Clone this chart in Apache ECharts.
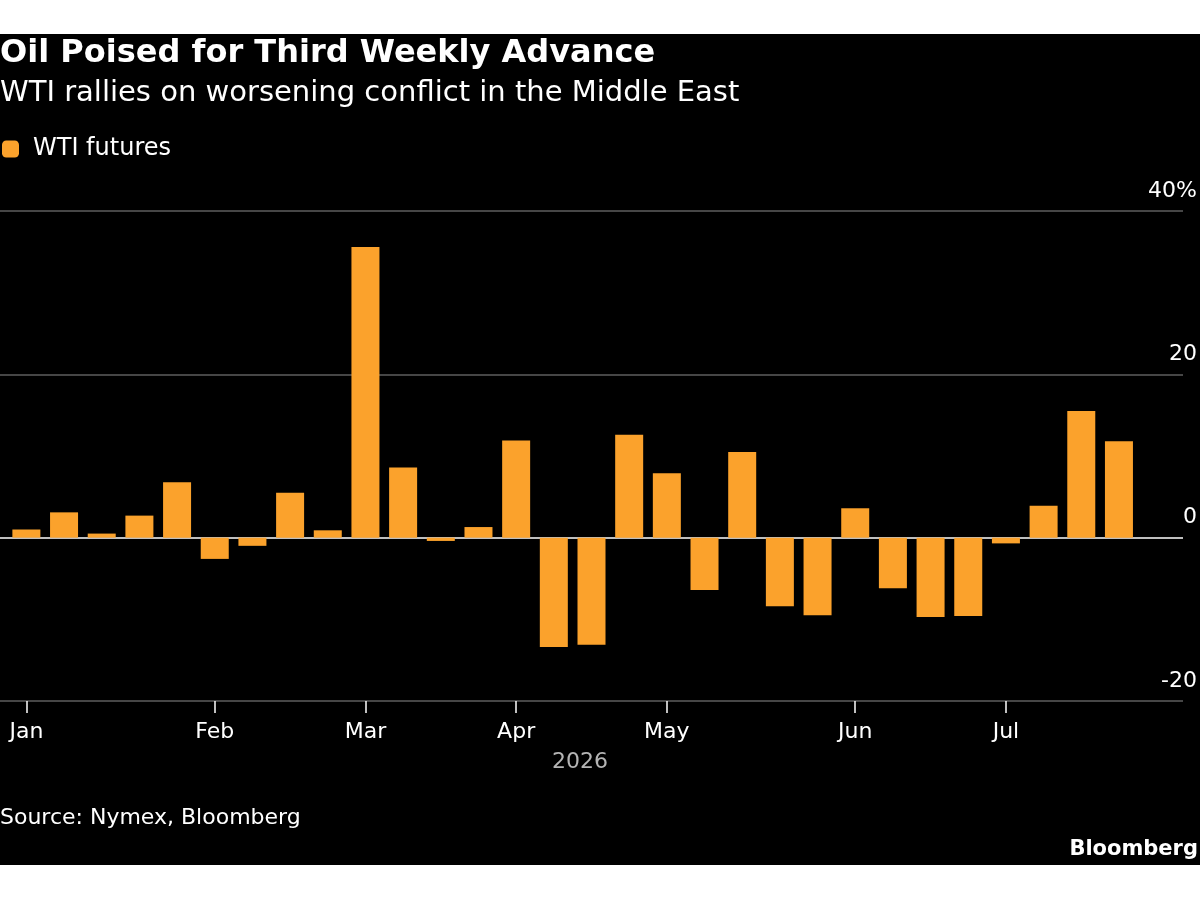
<!DOCTYPE html>
<html>
<head>
    <meta charset="utf-8">
    <title>Oil Poised for Third Weekly Advance</title>
    <script src="https://cdn.jsdelivr.net/npm/echarts@6/dist/echarts.min.js"></script>
    <style>
        body { margin: 0; background: #fff; }
        #main { position: absolute; left: 0; top: 34px; width: 1200px; height: 831px; background: #000; }
    </style>
</head>
<body>
<div id="main"></div>
<script>
    // weekly dates (Fridays, 2026) and WTI weekly % change
    var weeks = ['2026-01-02', '2026-01-09', '2026-01-16', '2026-01-23', '2026-01-30',
        '2026-02-06', '2026-02-13', '2026-02-20', '2026-02-27',
        '2026-03-06', '2026-03-13', '2026-03-20', '2026-03-27',
        '2026-04-03', '2026-04-10', '2026-04-17', '2026-04-24',
        '2026-05-01', '2026-05-08', '2026-05-15', '2026-05-22', '2026-05-29',
        '2026-06-05', '2026-06-12', '2026-06-19', '2026-06-26',
        '2026-07-03', '2026-07-10', '2026-07-17', '2026-07-24'];
    var wtiChange = [1.0, 3.1, 0.5, 2.7, 6.8,
        -2.6, -1.0, 5.5, 0.9,
        35.6, 8.6, -0.4, 1.3,
        11.9, -13.4, -13.1, 12.6,
        7.9, -6.4, 10.5, -8.4, -9.5,
        3.6, -6.2, -9.7, -9.6,
        -0.7, 3.9, 15.5, 11.8];
    var monthNames = ['Jan', 'Feb', 'Mar', 'Apr', 'May', 'Jun', 'Jul'];
    var yTicks = [-20, 0, 20, 40];

    var font = 'DejaVu Sans';

    // first week of each month gets a tick
    var monthIdx = [];
    var lastMonth = '';
    weeks.forEach(function (d, i) {
        var m = d.slice(5, 7);
        if (m !== lastMonth) {
            monthIdx.push(i);
            lastMonth = m;
        }
    });

    var seriesData = wtiChange.map(function (v, i) {
        return [i, v];
    });

    var chart = echarts.init(document.getElementById('main'));
    var option = {
        backgroundColor: '#000',
        animation: false,
        textStyle: { fontFamily: font },
        title: [
            {
                text: 'Oil Poised for Third Weekly Advance',
                left: 0, top: 4, padding: 0,
                textStyle: { color: '#fff', fontSize: 32, fontWeight: 'bold', fontFamily: font }
            },
            {
                text: 'WTI rallies on worsening conflict in the Middle East',
                left: 0, top: 45, padding: 0,
                textStyle: { color: '#fff', fontSize: 29, fontWeight: 'normal', fontFamily: font }
            },
            {
                text: '2026',
                left: 580, top: 717, padding: 0, textAlign: 'center',
                textStyle: { color: '#b4b4b4', fontSize: 22, fontWeight: 'normal', fontFamily: font }
            },
            {
                text: 'Source: Nymex, Bloomberg',
                left: 0, top: 773, padding: 0,
                textStyle: { color: '#fff', fontSize: 22, fontWeight: 'normal', fontFamily: font }
            },
            {
                text: 'Bloomberg',
                right: 2, top: 805, padding: 0,
                textStyle: { color: '#fff', fontSize: 21, fontWeight: 'bold', fontFamily: font }
            }
        ],
        legend: {
            left: 2, top: 103, padding: 0,
            icon: 'roundRect',
            itemWidth: 17, itemHeight: 17, itemGap: 20,
            textStyle: { color: '#fff', fontSize: 24, fontFamily: font, padding: [0, 0, 0, 9] },
            data: ['WTI futures']
        },
        grid: { left: 0, right: 17, top: 177, bottom: 164 },
        xAxis: {
            type: 'value',
            min: -0.7,
            max: 30.7,
            splitLine: { show: false },
            axisLine: { show: false, onZero: false },
            axisTick: {
                show: true, length: 12, customValues: monthIdx,
                lineStyle: { color: '#fff', width: 1.5 }
            },
            axisLabel: {
                customValues: monthIdx,
                color: '#fff', fontSize: 22, margin: 20, fontFamily: font,
                formatter: function (v) {
                    return monthNames[monthIdx.indexOf(Math.round(v))];
                }
            }
        },
        yAxis: {
            type: 'value',
            position: 'right',
            min: -20, max: 40, interval: 20,
            axisLine: { show: false },
            axisTick: { show: false },
            splitLine: {
                lineStyle: { color: ['#5e5e5e', '#ffffff', '#5e5e5e', '#5e5e5e'], width: 1.5 }
            },
            axisLabel: {
                color: '#fff', fontSize: 22, fontFamily: font,
                align: 'right', verticalAlign: 'bottom', margin: 14,
                padding: [0, 0, 9, 0],
                formatter: function (v) {
                    return v === yTicks[yTicks.length - 1] ? v + '%' : String(v);
                }
            }
        },
        series: [
            {
                name: 'WTI futures',
                type: 'bar',
                barWidth: 28,
                itemStyle: { color: '#fba22c' },
                data: seriesData
            }
        ]
    };
    chart.setOption(option);
</script>
</body>
</html>
